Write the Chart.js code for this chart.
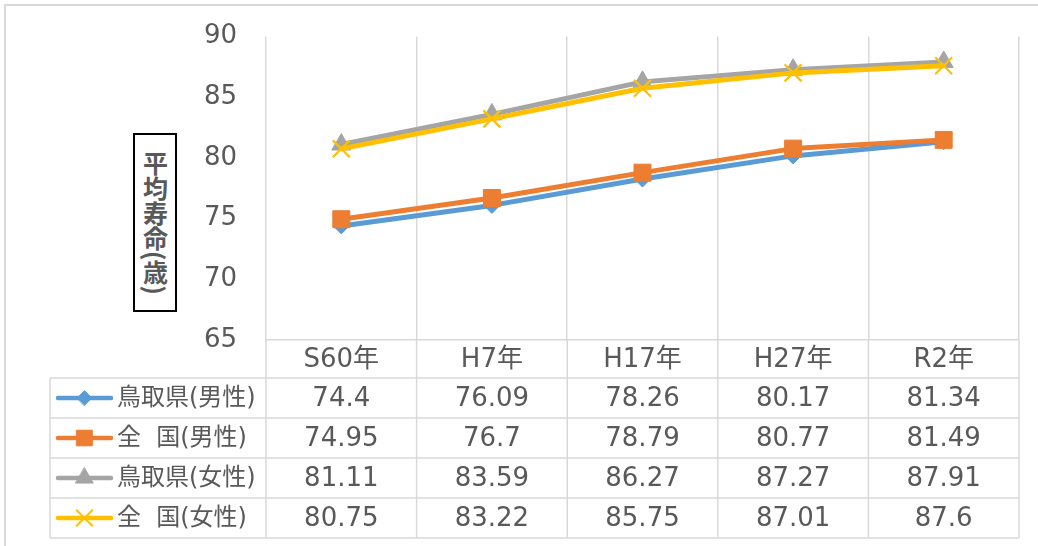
<!DOCTYPE html>
<html lang="ja">
<head>
<meta charset="utf-8">
<script src="https://cdn.jsdelivr.net/npm/chart.js@4.4.1/dist/chart.umd.min.js"></script>
<style>
  html, body { margin: 0; padding: 0; background: #fff; }
  #wrap { position: relative; width: 1038px; height: 546px; overflow: hidden; }
  #frame { position: absolute; left: 4px; top: 4px; width: 1100px; height: 600px; border: 2px solid #d9d9d9; box-sizing: border-box; }
  #chart { position: absolute; left: 0; top: 0; }
  #ytitle {
    position: absolute; left: 133px; top: 133px; width: 44px; height: 179px;
    box-sizing: border-box; border: 2px solid #000; background: #fff;
    display: flex; align-items: center; justify-content: center;
  }
  #ytitle span {
    writing-mode: vertical-rl; text-orientation: mixed;
    font-family: "Noto Sans CJK JP", sans-serif; font-weight: 700; font-size: 25px;
    color: #595959; line-height: 1;
  }
</style>
</head>
<body>
<div id="wrap">
  <div id="frame"></div>
  <canvas id="chart" width="1038" height="546"></canvas>
  <div id="ytitle"><span>平均寿命(歳)</span></div>
</div>
<script>
// data
const categories = ['S60年', 'H7年', 'H17年', 'H27年', 'R2年'];
const seriesNames = ['鳥取県(男性)', '全  国(男性)', '鳥取県(女性)', '全  国(女性)'];
const tottoriMale = [74.4, 76.09, 78.26, 80.17, 81.34];
const japanMale = [74.95, 76.7, 78.79, 80.77, 81.49];
const tottoriFemale = [81.11, 83.59, 86.27, 87.27, 87.91];
const japanFemale = [80.75, 83.22, 85.75, 87.01, 87.6];
const yMin = 65, yMax = 90, yStep = 5;

// series look (Excel default palette)
const colors = ['#5b9bd5', '#ed7d31', '#a5a5a5', '#ffc000'];
const pointStyles = ['rectRot', 'rect', 'triangle', 'crossRot'];
const pointRadii = [8, 12, 11, 12];
const allValues = [tottoriMale, japanMale, tottoriFemale, japanFemale];

const TEXT = '#595959';
const GRID = '#d9d9d9';
const NUM_FONT = '26px "DejaVu Sans", "Noto Sans CJK JP", sans-serif';
const LBL_FONT = '24px "DejaVu Sans", "Noto Sans CJK JP", sans-serif';

// data table under the plot
const tablePlugin = {
  id: 'dataTable',
  afterDraw(chart) {
    const ctx = chart.ctx;
    const x = chart.scales.x;
    const top = chart.chartArea.bottom;   // x axis line
    const headH = 38, rowH = 40, tableLeft = 50;
    const half = (x.getPixelForValue(1) - x.getPixelForValue(0)) / 2;
    const left = x.getPixelForValue(0) - half;
    const right = x.getPixelForValue(categories.length - 1) + half;
    const rowsTop = top + headH;
    const bottom = rowsTop + rowH * seriesNames.length;

    ctx.save();
    ctx.strokeStyle = GRID;
    ctx.lineWidth = 1.5;
    ctx.beginPath();
    // horizontal lines
    for (let r = 0; r <= seriesNames.length; r++) {
      const yy = rowsTop + r * rowH;
      ctx.moveTo(tableLeft, yy);
      ctx.lineTo(right, yy);
    }
    // vertical lines
    ctx.moveTo(tableLeft, rowsTop);
    ctx.lineTo(tableLeft, bottom);
    for (let i = 0; i <= categories.length; i++) {
      const xx = left + i * half * 2;
      ctx.moveTo(xx, top);
      ctx.lineTo(xx, bottom);
    }
    ctx.stroke();

    // header labels
    ctx.fillStyle = TEXT;
    ctx.textAlign = 'center';
    ctx.textBaseline = 'middle';
    ctx.font = NUM_FONT;
    categories.forEach((c, i) => {
      ctx.fillText(c, x.getPixelForValue(i), top + headH / 2 + 1);
    });

    // rows
    seriesNames.forEach((name, r) => {
      const cy = rowsTop + r * rowH + rowH / 2;
      // legend key
      ctx.strokeStyle = colors[r];
      ctx.lineWidth = 4.5;
      ctx.lineCap = 'round';
      ctx.beginPath();
      ctx.moveTo(58, cy);
      ctx.lineTo(111, cy);
      ctx.stroke();
      ctx.fillStyle = colors[r];
      ctx.strokeStyle = colors[r];
      ctx.lineWidth = r === 3 ? 2 : 1;
      if (Chart.helpers && Chart.helpers.drawPoint) {
        Chart.helpers.drawPoint(ctx, {
          pointStyle: pointStyles[r], radius: pointRadii[r] * 0.92,
          rotation: 0, borderWidth: ctx.lineWidth
        }, 84.5, cy);
      }
      // name
      ctx.fillStyle = TEXT;
      ctx.textAlign = 'left';
      ctx.font = LBL_FONT;
      ctx.fillText(name, 117, cy + 1);
      // values
      ctx.textAlign = 'center';
      ctx.font = NUM_FONT;
      allValues[r].forEach((v, i) => {
        ctx.fillText(String(v), x.getPixelForValue(i), cy + 1);
      });
    });
    ctx.restore();
  }
};

const datasets = allValues.map((vals, i) => ({
  label: seriesNames[i],
  data: vals,
  borderColor: colors[i],
  backgroundColor: colors[i],
  borderWidth: 5,
  borderCapStyle: 'round',
  borderJoinStyle: 'round',
  pointStyle: pointStyles[i],
  pointRadius: pointRadii[i],
  pointBorderWidth: i === 3 ? 2.2 : 1,
  pointBackgroundColor: colors[i],
  pointBorderColor: colors[i],
  tension: 0,
  order: 4 - i
}));

new Chart(document.getElementById('chart'), {
  type: 'line',
  data: { labels: categories, datasets },
  plugins: [tablePlugin],
  options: {
    responsive: false,
    animation: false,
    events: [],
    layout: { padding: { top: 35, right: 19, left: 0, bottom: 0 } },
    plugins: { legend: { display: false }, tooltip: { enabled: false } },
    scales: {
      x: {
        offset: true,
        grid: { offset: true, color: GRID, lineWidth: 1.5, drawTicks: false },
        border: { display: true, color: GRID, width: 1.5 },
        ticks: { display: false },
        afterFit(scale) { scale.height = 206; }
      },
      y: {
        min: yMin, max: yMax,
        grid: { display: false },
        border: { display: false },
        ticks: {
          stepSize: yStep, color: TEXT, padding: 21,
          font: { family: '"DejaVu Sans", sans-serif', size: 26 }
        },
        afterFit(scale) { scale.width = 266; }
      }
    }
  }
});
</script>
</body>
</html>
